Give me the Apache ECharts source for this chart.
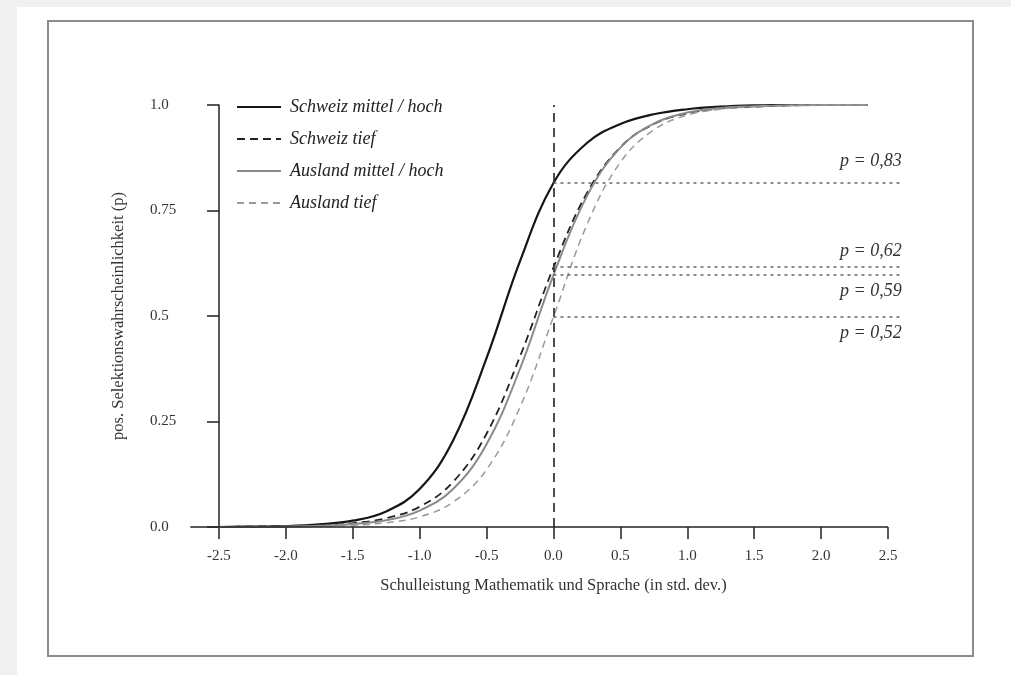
<!DOCTYPE html>
<html>
<head>
<meta charset="utf-8">
<title>Selektionswahrscheinlichkeit</title>
<script src="https://cdn.jsdelivr.net/npm/echarts@6/dist/echarts.min.js"></script>
<style>
  html, body { margin: 0; padding: 0; background: #f0f0f0; }
  #paper { position: absolute; left: 17px; top: 7px; right: 0; bottom: 0; background: #ffffff; }
  #frame { position: absolute; left: 47px; top: 20px; width: 923px; height: 633px; border: 2px solid #8c8c8c; }
  #chart { position: absolute; left: 0; top: 0; width: 1011px; height: 675px; }
</style>
</head>
<body>
<div id="paper"></div>
<div id="frame"></div>
<div id="chart"></div>
<script>
const xValues = [-2.5, -2.25, -2, -1.75, -1.5, -1.25, -1, -0.75, -0.5, -0.25, 0, 0.25, 0.5, 0.75, 1, 1.25, 1.5, 1.75, 2, 2.35];

const schweizMittelHoch = [0.000, 0.001, 0.002, 0.006, 0.015, 0.037, 0.090, 0.205, 0.400, 0.630, 0.815, 0.910, 0.955, 0.978, 0.990, 0.996, 0.999, 1.000, 1.000, 1.000];
const schweizTief       = [0.000, 0.001, 0.002, 0.004, 0.009, 0.021, 0.048, 0.107, 0.221, 0.404, 0.615, 0.791, 0.900, 0.955, 0.980, 0.992, 0.996, 0.999, 1.000, 1.000];
const auslandMittelHoch = [0.000, 0.000, 0.001, 0.003, 0.007, 0.016, 0.039, 0.090, 0.196, 0.375, 0.597, 0.784, 0.899, 0.956, 0.982, 0.993, 0.997, 0.999, 1.000, 1.000];
const auslandTief       = [0.000, 0.000, 0.001, 0.002, 0.004, 0.010, 0.024, 0.059, 0.136, 0.284, 0.498, 0.716, 0.864, 0.941, 0.976, 0.990, 0.996, 0.999, 1.000, 1.000];

const seriesNames = ['Schweiz mittel / hoch', 'Schweiz tief', 'Ausland mittel / hoch', 'Ausland tief'];

// reference levels at x = 0 and their labels
const refLevels = [0.815, 0.616, 0.597, 0.498];
const refLabels = ['p = 0,83', 'p = 0,62', 'p = 0,59', 'p = 0,52'];

const xTicks = [-2.5, -2.0, -1.5, -1.0, -0.5, 0.0, 0.5, 1.0, 1.5, 2.0, 2.5];
const yTicks = [0, 0.25, 0.5, 0.75, 1.0];
const yTickLabels = ['0.0', '0.25', '0.5', '0.75', '1.0'];

// axis range is a bit wider than the ticks: base line starts left of the y axis,
// reference lines run past 2.5
const xMin = -2.716;
const xMax = 2.612;

const serif = 'Liberation Serif';

function toPairs(values) {
  return xValues.map(function (x, i) { return [x, values[i]]; });
}

function curve(name, values, color, width, type) {
  return {
    name: name,
    type: 'line',
    data: toPairs(values),
    smooth: 0.4,
    symbol: 'none',
    lineStyle: { color: color, width: width, type: type },
    itemStyle: { color: color },
    z: 3
  };
}

function refLine(level, text, below, extraGap) {
  return [
    {
      coord: [0, level],
      label: {
        show: true,
        formatter: text,
        position: below ? 'insideEndBottom' : 'insideEndTop',
        distance: 1,
        padding: below ? [6, 0, 0, 0] : [0, 0, 6 + extraGap, 0],
        fontFamily: serif,
        fontStyle: 'italic',
        fontSize: 18,
        color: '#333'
      }
    },
    { coord: [xMax - 0.002, level] }
  ];
}

const refData = refLevels.map(function (lvl, i) {
  return refLine(lvl, refLabels[i], i >= 2, i === 0 ? 6 : 0);
});

const chart = echarts.init(document.getElementById('chart'));

chart.setOption({
  backgroundColor: 'transparent',
  animation: false,
  grid: { left: 190, right: 108, top: 105, bottom: 148 },
  legend: {
    data: seriesNames,
    orient: 'vertical',
    left: 231,
    top: 93,
    itemWidth: 44,
    itemHeight: 14,
    itemGap: 14,
    itemStyle: { opacity: 0 },
    textStyle: {
      fontFamily: serif,
      fontStyle: 'italic',
      fontSize: 18,
      color: '#222',
      padding: [0, 0, 0, 4]
    }
  },
  xAxis: {
    type: 'value',
    min: xMin,
    max: xMax,
    name: 'Schulleistung Mathematik und Sprache (in std. dev.)',
    nameLocation: 'middle',
    nameGap: 50,
    nameTextStyle: { fontFamily: serif, fontSize: 16.5, color: '#333', padding: [0, 0, 0, 14] },
    axisLine: { show: false },
    splitLine: { show: false },
    axisTick: {
      show: true,
      customValues: xTicks,
      length: 12,
      lineStyle: { color: '#222', width: 1.5 }
    },
    axisLabel: {
      customValues: xTicks,
      margin: 22,
      fontFamily: serif,
      fontSize: 15,
      color: '#333',
      formatter: function (v) { return v.toFixed(1); }
    }
  },
  yAxis: {
    type: 'value',
    min: 0,
    max: 1,
    interval: 0.25,
    offset: -29,
    name: 'pos. Selektionswahrscheinlichkeit (p)',
    nameLocation: 'middle',
    nameRotate: 90,
    nameGap: 92,
    nameTextStyle: { fontFamily: serif, fontSize: 16.5, color: '#333' },
    axisLine: { show: true, onZero: false, lineStyle: { color: '#222', width: 1.5 } },
    splitLine: { show: false },
    axisTick: { show: true, length: 12, lineStyle: { color: '#222', width: 1.5 } },
    axisLabel: {
      align: 'left',
      margin: 69,
      fontFamily: serif,
      fontSize: 15,
      color: '#333',
      formatter: function (v) { return yTickLabels[yTicks.indexOf(v)]; }
    }
  },
  series: [
    curve(seriesNames[0], schweizMittelHoch, '#151515', 2.2, 'solid'),
    curve(seriesNames[1], schweizTief, '#222222', 1.8, [8, 5]),
    curve(seriesNames[2], auslandMittelHoch, '#8a8a8a', 2, 'solid'),
    curve(seriesNames[3], auslandTief, '#9a9a9a', 1.5, [7, 5]),
    {
      name: 'frame-lines',
      type: 'line',
      data: [],
      silent: true,
      z: 2,
      markLine: {
        silent: true,
        symbol: 'none',
        animation: false,
        label: { show: false },
        data: [
          // x axis base line
          [{ coord: [xMin + 0.002, 0], lineStyle: { color: '#222', width: 1.6, type: 'solid' } }, { coord: [2.5, 0] }],
          // vertical dashed line at x = 0
          [{ coord: [0, 0], lineStyle: { color: '#222', width: 1.6, type: [9, 6] } }, { coord: [0, 1] }]
        ]
      }
    },
    {
      name: 'ref-lines',
      type: 'line',
      data: [],
      silent: true,
      z: 1,
      markLine: {
        silent: true,
        symbol: 'none',
        animation: false,
        lineStyle: { color: '#666', width: 1.5, type: [3, 4] },
        data: refData
      }
    }
  ]
});
</script>
</body>
</html>
